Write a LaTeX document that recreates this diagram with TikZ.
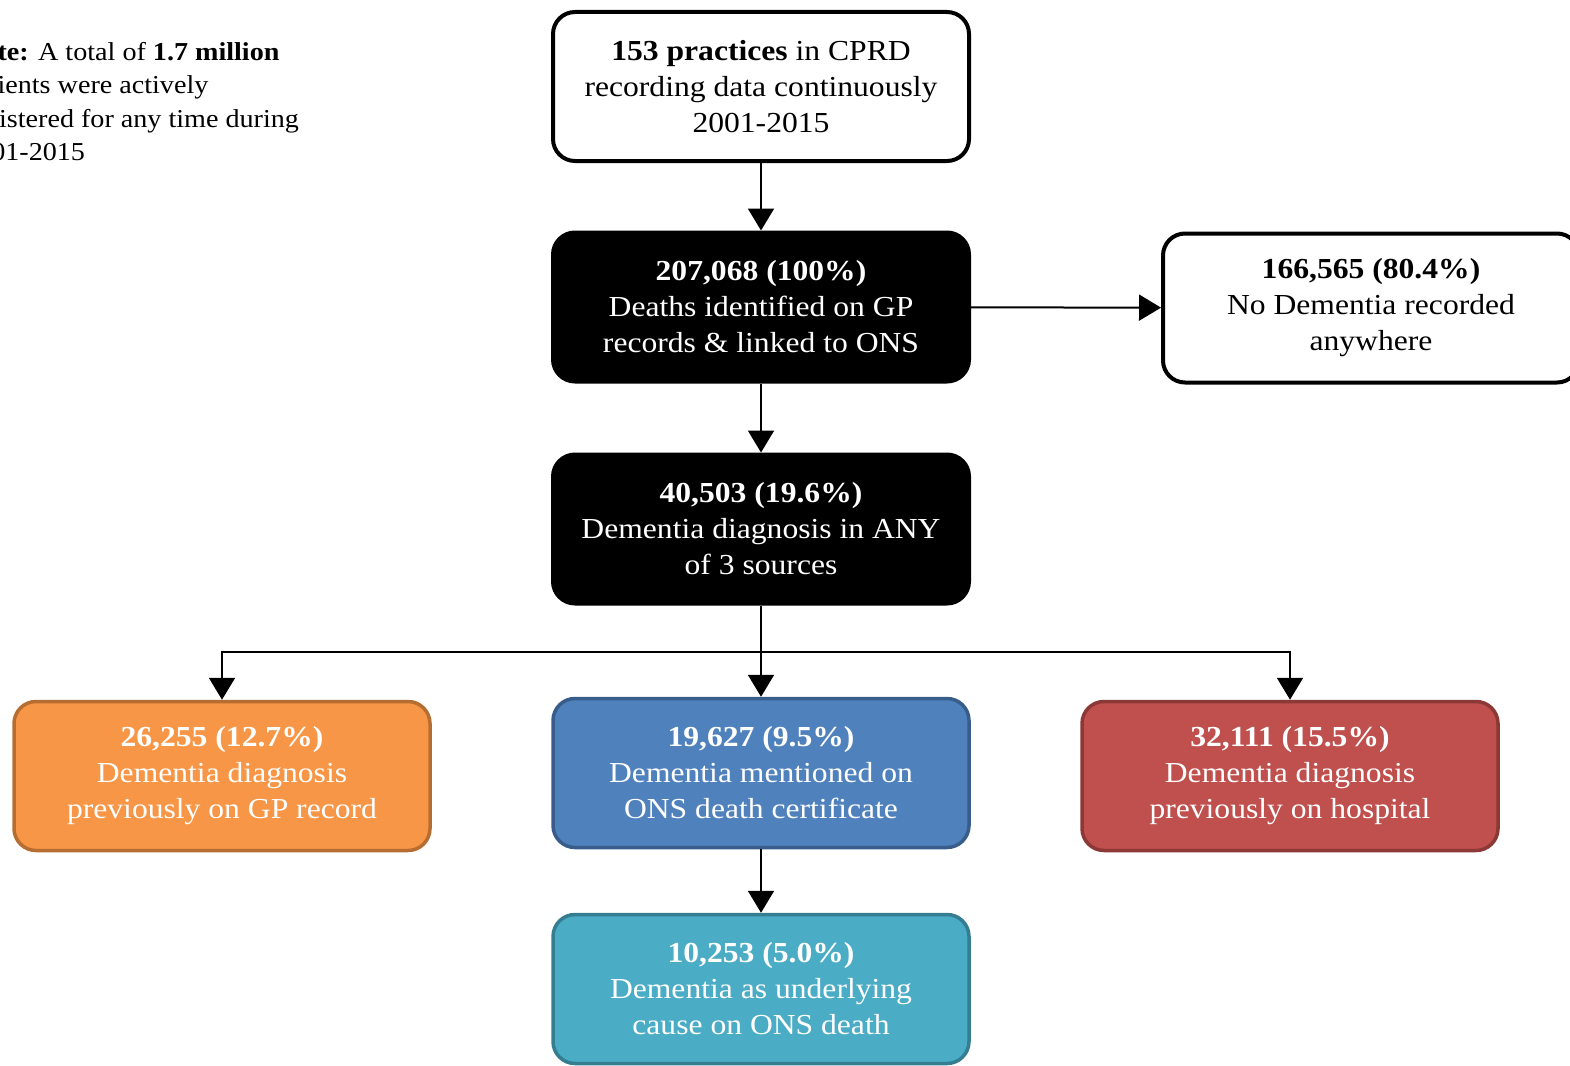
\documentclass[tikz,border=0pt]{standalone}
\usepackage{fontspec}
\setmainfont{Liberation Serif}[FakeStretch=1.09]
\usetikzlibrary{arrows.meta}
\definecolor{orfill}{HTML}{F79646}
\definecolor{ordraw}{HTML}{B66D31}
\definecolor{blfill}{HTML}{4F81BD}
\definecolor{bldraw}{HTML}{385D8A}
\definecolor{rdfill}{HTML}{C0504D}
\definecolor{rddraw}{HTML}{8C3836}
\definecolor{tlfill}{HTML}{4BACC6}
\definecolor{tldraw}{HTML}{357D91}
\tikzset{
  box/.style={rectangle, rounded corners=22pt, minimum width=416pt, minimum height=149pt,
    align=center, inner sep=0pt, font=\fontsize{29}{36}\selectfont},
  whitebox/.style={box, draw=black, fill=white, line width=4pt, text=black},
  blackbox/.style={box, draw=black, fill=black, line width=4pt, text=white},
  colbox/.style={box, line width=3.5pt, text=white},
  arr/.style={line width=2pt, -{Triangle[width=26pt,length=22pt]}},
  notetext/.style={anchor=north west, align=left, inner sep=0pt, font=\fontsize{25.8}{33.5}\selectfont}
}
\begin{document}
\begin{tikzpicture}[x=1pt,y=-1pt]
\useasboundingbox (0,0) rectangle (1570,1065);
\clip (0,0) rectangle (1570,1065);

\node[notetext] (note) at (-37,42) {\textbf{Note:} A total of \textbf{1.7 million}\\patients were actively\\registered for any time during\\2001-2015};

\node[whitebox] (top) at (761,86.5) {\textbf{153 practices} in CPRD\\recording data continuously\\2001-2015};
\node[blackbox] (deaths) at (761,307) {\textbf{207,068 (100\%)}\\Deaths identified on GP\\records \& linked to ONS};
\node[whitebox] (nodem) at (1371,308) {\textbf{166,565 (80.4\%)}\\No Dementia recorded\\anywhere};
\node[blackbox] (any) at (761,529) {\textbf{40,503 (19.6\%)}\\Dementia diagnosis in ANY\\of 3 sources};
\node[colbox, fill=orfill, draw=ordraw] (gp) at (222,776) {\textbf{26,255 (12.7\%)}\\Dementia diagnosis\\previously on GP record};
\node[colbox, fill=blfill, draw=bldraw] (ons) at (761,773) {\textbf{19,627 (9.5\%)}\\Dementia mentioned on\\ONS death certificate};
\node[colbox, fill=rdfill, draw=rddraw] (hosp) at (1290,776) {\textbf{32,111 (15.5\%)}\\Dementia diagnosis\\previously on hospital};
\node[colbox, fill=tlfill, draw=tldraw] (under) at (761,989) {\textbf{10,253 (5.0\%)}\\Dementia as underlying\\cause on ONS death};

\coordinate (split) at (761,652);
\draw[arr] (top) -- (deaths);
\draw[arr] (deaths) -- (nodem);
\draw[arr] (deaths) -- (any);
\draw[arr] (any) -- (ons);
\draw[arr] (split) -| (gp.north);
\draw[arr] (split) -| (hosp.north);
\draw[arr] (ons) -- (under);
\end{tikzpicture}
\end{document}
